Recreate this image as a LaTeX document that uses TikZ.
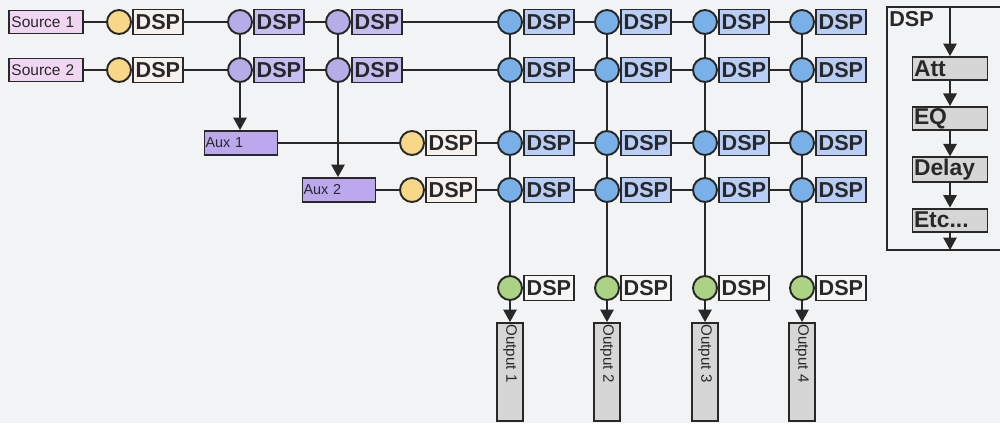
\documentclass[tikz,border=0pt]{standalone}
\usepackage{fontspec}
\setmainfont{Liberation Sans}
\usepackage{tikz}
\usetikzlibrary{arrows.meta,positioning}
\definecolor{ink}{RGB}{40,40,40}
\definecolor{paper}{RGB}{242,243,244}
\definecolor{srcfill}{RGB}{240,214,240}
\definecolor{yel}{RGB}{246,216,136}
\definecolor{cream}{RGB}{246,241,236}
\definecolor{lilac}{RGB}{182,172,232}
\definecolor{lilacbox}{RGB}{198,190,242}
\definecolor{auxfill}{RGB}{188,168,236}
\definecolor{sky}{RGB}{122,176,232}
\definecolor{skybox}{RGB}{184,206,246}
\definecolor{leaf}{RGB}{172,210,132}
\definecolor{pale}{RGB}{246,246,246}
\definecolor{stagefill}{RGB}{214,214,214}

\begin{document}
\begin{tikzpicture}[x=0.2mm,y=-0.2mm,color=ink,line width=0.9pt,
      >={Triangle[length=2.5mm,width=2.7mm]},
      dot/.style={circle,draw,line width=1.1pt,minimum size=4.8mm,inner sep=0pt},
      dsp/.style={draw,line width=1.1pt,minimum width=10mm,minimum height=5mm,inner sep=0pt,
        font=\fontsize{12.3}{12}\selectfont\bfseries},
      src/.style={draw,line width=1.1pt,fill=srcfill,minimum width=14.8mm,minimum height=4.6mm,
        text width=13.8mm,inner sep=0.5mm,align=left,font=\fontsize{8.8}{9}\selectfont},
      aux/.style={src,fill=auxfill,minimum width=14.6mm,minimum height=4.8mm,text width=14.2mm,
        inner sep=0.2mm,font=\fontsize{8.2}{9}\selectfont},
      outbox/.style={draw,line width=1.1pt,fill=stagefill,rotate=-90,minimum width=19.6mm,
        minimum height=5.2mm,text width=19mm,inner sep=0.3mm,align=left,font=\fontsize{8.6}{9}\selectfont},
      stage/.style={draw,line width=1.1pt,fill=stagefill,minimum width=15mm,minimum height=4.6mm,
        text width=14.4mm,inner sep=0.3mm,align=left,font=\fontsize{13}{12}\selectfont\bfseries}]
    \useasboundingbox (0,0) rectangle (1000,423);
    \fill[paper] (0,0) rectangle (1000,423);

    % inputs and aux sends
    \node[src] (src1) at (46,22) {Source 1};
    \node[src] (src2) at (46,70) {Source 2};
    \node[aux] (aux1) at (241,143) {Aux 1};
    \node[aux] (aux2) at (339,190) {Aux 2};
    \foreach \n/\x/\y in {1/119/22,2/119/70,3/412/143,4/412/190}{
      \node[dot,fill=yel] (yl\n) at (\x,\y) {};
      \node[dsp,fill=cream,right=0pt of yl\n] (dl\n) {DSP};
    }
    \foreach \n/\x in {1/240,2/338}
      \foreach \m/\y in {1/22,2/70}{
        \node[dot,fill=lilac] (p\n\m) at (\x,\y) {};
        \node[dsp,fill=lilacbox,right=0pt of p\n\m] (dp\n\m) {DSP};
      }

    % mix matrix and outputs
    \foreach \n/\x in {1/510,2/607,3/705,4/802}{
      \foreach \m/\y in {1/22,2/70,3/143,4/190}{
        \node[dot,fill=sky] (b\n\m) at (\x,\y) {};
        \node[dsp,fill=skybox,right=0pt of b\n\m] (db\n\m) {DSP};
      }
      \node[dot,fill=leaf] (g\n) at (\x,288) {};
      \node[dsp,fill=pale,right=0pt of g\n] (dg\n) {DSP};
      \node[outbox] (o\n) at (\x,372) {Output \n};
      \draw (b\n1) -- (b\n2) -- (b\n3) -- (b\n4) -- (g\n);
      \draw[->] (g\n) -- (o\n.west);
    }
    \foreach \m in {1,...,4}
      \draw (db1\m) -- (b2\m) (db2\m) -- (b3\m) (db3\m) -- (b4\m);

    \foreach \m in {1,2}
      \draw (src\m) -- (yl\m) (dl\m) -- (p1\m) (dp1\m) -- (p2\m) (dp2\m) -- (b1\m);
    \draw (p11) -- (p12) (p21) -- (p22);
    \draw[->] (p12) -- (p12|-aux1.north);
    \draw[->] (p22) -- (p22|-aux2.north);
    \draw (aux1) -- (yl3) (dl3) -- (b13);
    \draw (aux2) -- (yl4) (dl4) -- (b14);

    % what sits inside one DSP block
    \draw[line width=1.1pt] (1000,7) -- (887,7) -- (887,250) -- (1000,250);
    \node[anchor=north west,inner sep=0.3mm,font=\fontsize{12.3}{12}\selectfont\bfseries] (dsptitle) at (887,9) {DSP};
    \coordinate (feed) at (950,7);
    \coordinate (drain) at (950,250);
    \node[stage] (att) at (950,68.5) {Att};
    \node[stage,below=5mm of att] (eq) {EQ};
    \node[stage,below=5mm of eq] (delay) {Delay};
    \node[stage,below=5mm of delay] (etc) {Etc...};
    \draw[->] (feed) -- (att);
    \draw[->] (att) -- (eq);
    \draw[->] (eq) -- (delay);
    \draw[->] (delay) -- (etc);
    \draw[->] (etc) -- (drain);
  \end{tikzpicture}
\end{document}
